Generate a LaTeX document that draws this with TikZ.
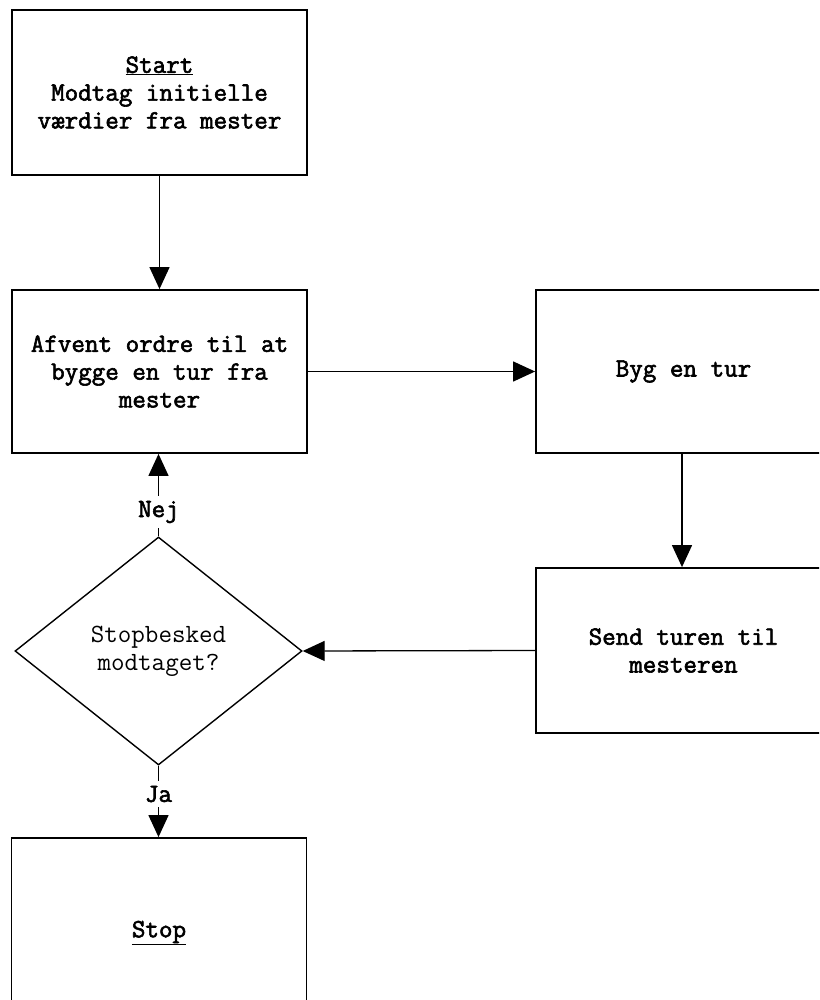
\documentclass[tikz,border=0pt]{standalone}
\usepackage{fontspec}
\setmonofont[BoldFont={Latin Modern Mono}, BoldFeatures={FakeBold=2.2}]{Latin Modern Mono}
\usetikzlibrary{shapes.geometric,arrows.meta}
\begin{document}
\begin{tikzpicture}[x=1pt,y=-1pt,
  every node/.style={font=\fontsize{26.3}{27.8}\selectfont\ttfamily\bfseries, align=center},
  stepbox/.style={draw, line width=1.8pt, inner sep=0pt, minimum width=295pt},
  decision/.style={draw, diamond, line width=1.4pt, inner sep=0pt,
    minimum width=287pt, minimum height=228pt},
  flow/.style={line width=1.3pt, -{Triangle[length=22pt,width=20pt]}},
  plain/.style={line width=1.3pt},
  lbl/.style={inner sep=5pt}]
\clip (0,0) rectangle (819,1000);
\fill[white] (0,0) rectangle (819,1000);

% process boxes
\node[stepbox, minimum height=165pt] (start) at (159.5,92.5)
  {\underline{Start}\\Modtag initielle\\v\ae rdier fra mester};
\node[stepbox, minimum height=163pt] (afvent) at (159.5,371.5)
  {Afvent ordre til at\\bygge en tur fra\\mester};
\node[stepbox, minimum height=163pt] (byg) at (683.5,371.5) {Byg en tur};
\node[stepbox, minimum height=165pt] (send) at (683.5,650.5)
  {Send turen til\\mesteren};
\node[decision] (stopq) at (158.5,651)
  {\mdseries Stopbesked\\\mdseries modtaget?};
\node[stepbox, minimum height=190pt] (stop) at (159,933) {\underline{Stop}};

% branch labels
\node[lbl] (nej) at (158.5,512) {Nej};
\node[lbl] (ja) at (158.5,794) {Ja};

% connectors
\draw[flow] (start.south) -- (afvent.north);
\draw[flow] (afvent.east) -- (byg.west);
\draw[flow] (byg.south -| 682,0) -- (send.north -| 682,0);
\draw[flow] (send.west) -- (stopq.east);
\draw[plain] (stopq.north) -- (nej.south);
\draw[flow] (nej.north) -- (afvent.south -| nej.north);
\draw[plain] (stopq.south) -- (ja.north);
\draw[flow] (ja.south) -- (stop.north -| ja.south);
\end{tikzpicture}
\end{document}
